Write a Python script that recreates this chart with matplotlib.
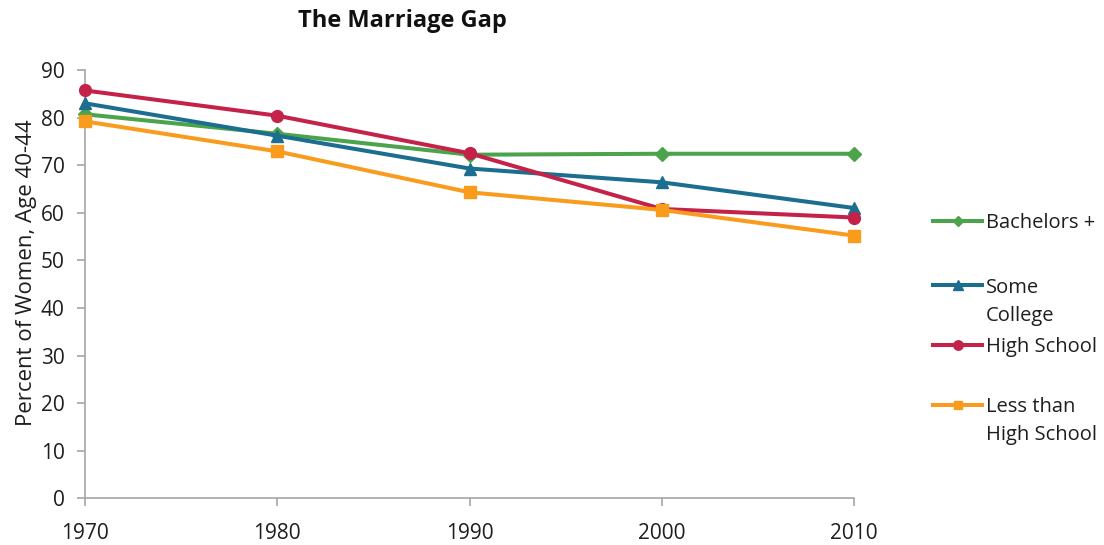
import matplotlib
matplotlib.use("Agg")
import matplotlib.pyplot as plt
from matplotlib.lines import Line2D

years = [1970, 1980, 1990, 2000, 2010]
series_names = ["Bachelors +", "Some\nCollege", "High School", "Less than\nHigh School"]
bachelors = [80.7, 76.6, 72.2, 72.4, 72.4]
some_college = [83.0, 76.2, 69.3, 66.4, 61.0]
high_school = [85.7, 80.4, 72.5, 60.8, 59.0]
less_than_hs = [79.2, 72.9, 64.3, 60.6, 55.2]
yticks = [0, 10, 20, 30, 40, 50, 60, 70, 80, 90]

values = [bachelors, some_college, high_school, less_than_hs]
colors = ["#4BA34B", "#1B6E8F", "#C42248", "#F99B1C"]
markers = ["D", "^", "o", "s"]
msizes = [7, 9, 8.5, 8]

plt.rcParams['font.family'] = ['Open Sans', 'DejaVu Sans']
fig = plt.figure(figsize=(11.04, 5.45), dpi=100)
ax = fig.add_axes([85 / 1104, 1 - 498.3 / 545, (854 - 85) / 1104, (498.3 - 70) / 545])

for vals, c, m, ms in zip(values, colors, markers, msizes):
    ax.plot(years, vals, color=c, lw=2.9, marker=m, markersize=ms, clip_on=False, zorder=3)

ax.set_xlim(1970, 2010)
ax.set_ylim(0, 90)
ax.set_xticks(years)
ax.set_yticks(yticks)
for s in ["top", "right"]:
    ax.spines[s].set_visible(False)
for s in ["left", "bottom"]:
    ax.spines[s].set_color("#A6A6A6")
    ax.spines[s].set_linewidth(1.2)
ax.tick_params(axis="both", colors="#A6A6A6", length=5.5, width=1.2, labelsize=15, labelcolor="#1E1E1E")
ax.tick_params(axis="x", pad=12)
ax.tick_params(axis="y", pad=9)
ax.set_ylabel("Percent of Women, Age 40-44", fontsize=16, color="#1E1E1E", va="center")
ax.yaxis.set_label_coords((26.5 - 85) / 769, (498.3 - 273) / 428.3)

fig.text(402 / 1104, 1 - 21 / 545, "The Marriage Gap", fontsize=17, fontweight="bold",
         ha="center", va="center", color="#111111")

# legend (manual, Excel style)
leg_y = [221, 285.5, 344.5, 405]
for name, c, m, ms, yp in zip(series_names, colors, markers, msizes, leg_y):
    yf = 1 - yp / 545
    fig.add_artist(Line2D([933 / 1104, 982 / 1104], [yf, yf], transform=fig.transFigure,
                          color=c, lw=2.9))
    fig.add_artist(Line2D([957.5 / 1104], [yf], transform=fig.transFigure,
                          color=c, marker=m, markersize=ms * 0.8, lw=0))
    for i, line in enumerate(name.split("\n")):
        fig.text(986 / 1104, 1 - (yp + 7.5 + i * 27.5) / 545, line, fontsize=14.5,
                 ha="left", va="baseline", color="#1E1E1E")

fig.savefig("out.png", dpi=100)
